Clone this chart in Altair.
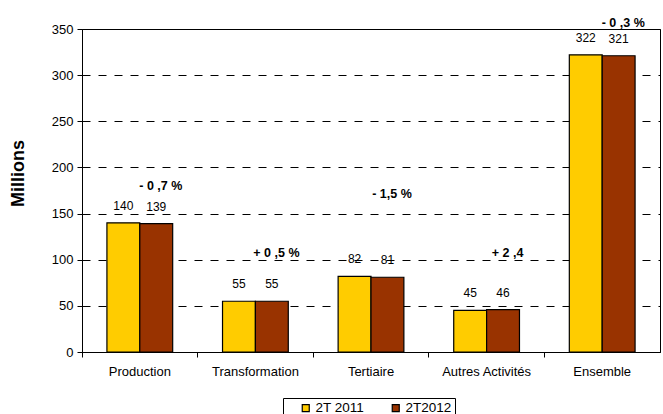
import altair as alt
import pandas as pd

# Emplois par secteur, en millions
secteurs = ["Production", "Transformation", "Tertiaire", "Autres Activités", "Ensemble"]
series = ["2T 2011", "2T2012"]
val_2011 = [140, 55, 82, 45, 322]
val_2012 = [139, 55, 81, 46, 321]

# Variations affichées au-dessus de chaque groupe, et hauteur (en millions) du texte
variations = ["-  0 ,7  %", "+  0 ,5  %", "-  1,5  %", "+  2 ,4", "-  0 ,3  %"]
hauteur_note = [180, 107, 171, 107, 356]

rows = []
for i, s in enumerate(secteurs):
    rows.append({"secteur": s, "serie": series[0], "valeur": val_2011[i]})
    rows.append({"secteur": s, "serie": series[1], "valeur": val_2012[i]})
df = pd.DataFrame(rows)

notes = pd.DataFrame({"secteur": secteurs, "note": variations, "niveau": hauteur_note})

FONT = "Liberation Sans"

x_enc = alt.X(
    "secteur:N",
    sort=secteurs,
    scale=alt.Scale(paddingInner=0, paddingOuter=0),
    axis=alt.Axis(
        title=None, labelAngle=0, labelFontSize=13, labelColor="#000000",
        labelFont=FONT, tickColor="#000000", tickSize=5, bandPosition=0,
        domainColor="#000000", labelPadding=8, grid=False,
    ),
)
y_scale = alt.Scale(domain=[0, 350], nice=False)
xoff = alt.XOffset("serie:N", sort=series, scale=alt.Scale(paddingOuter=0.758, paddingInner=0))

bars = alt.Chart(df).mark_bar(stroke="#000000", strokeWidth=1.2).encode(
    x=x_enc,
    xOffset=xoff,
    y=alt.Y(
        "valeur:Q",
        scale=y_scale,
        axis=alt.Axis(
            title="Millions", values=[0, 50, 100, 150, 200, 250, 300, 350],
            labelFontSize=13, labelFont=FONT, labelColor="#000000",
            tickColor="#000000", tickSize=5, labelPadding=4,
            domainColor="#000000",
            grid=True, gridColor="#000000", gridDash=[8, 8], gridWidth=1,
            titleFont=FONT, titleFontSize=18, titleFontWeight="bold",
            titleColor="#000000", titleX=-64, titleY=144,
            titleAlign="center", titleBaseline="middle", titleAngle=270,
        ),
    ),
    color=alt.Color(
        "serie:N",
        sort=series,
        scale=alt.Scale(domain=series, range=["#FFCC00", "#993300"]),
        legend=alt.Legend(
            title=None, orient="none", direction="horizontal",
            legendX=201, legendY=369,
            symbolType="square", symbolSize=49, symbolStrokeColor="#000000",
            symbolStrokeWidth=1.2, symbolOffset=13, labelOffset=3,
            labelFontSize=13.5, labelFont=FONT, labelColor="#000000",
            labelExpr="datum.label + '\u00a0\u00a0\u00a0'",
            columnPadding=11, padding=3,
            strokeColor="#000000", fillColor="#FFFFFF",
        ),
    ),
)

labels = alt.Chart(df).mark_text(
    baseline="middle", dy=-17, fontSize=12, font=FONT, color="#000000"
).encode(
    x=alt.X("secteur:N", sort=secteurs),
    xOffset=xoff,
    y=alt.Y("valeur:Q", scale=y_scale),
    text="valeur:Q",
)

note_marks = alt.Chart(notes).mark_text(
    baseline="middle", dx=21, fontSize=12.5, fontWeight="bold", font=FONT, color="#000000"
).encode(
    x=alt.X("secteur:N", sort=secteurs),
    y=alt.Y("niveau:Q", scale=y_scale),
    text="note:N",
)

chart = alt.layer(bars, labels, note_marks).properties(
    width=578, height=323,
    autosize=alt.AutoSizeParams(type="none"),
    padding={"left": 82, "top": 29, "right": 3, "bottom": 62},
    background="#FFFFFF",
).configure_view(stroke="#000000", strokeWidth=1)

chart.save("out.html", embed_options={"renderer": "svg", "actions": False})
